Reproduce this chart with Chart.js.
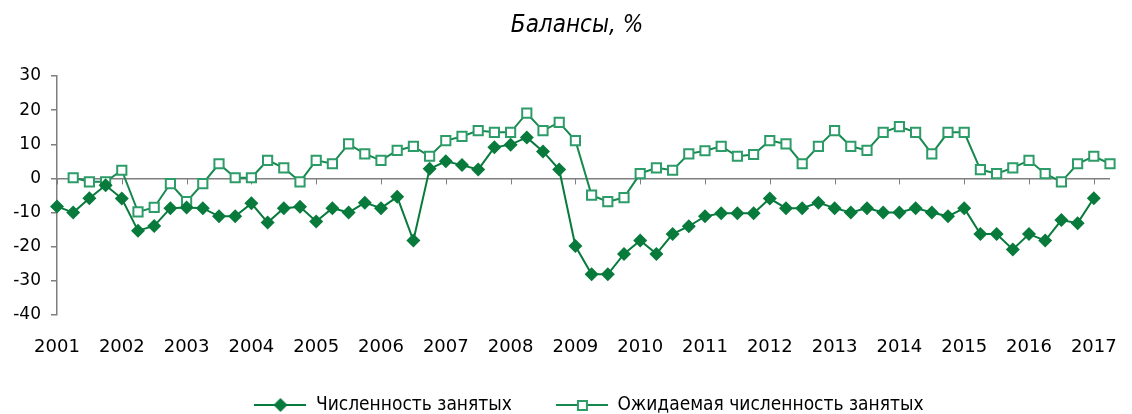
<!DOCTYPE html>
<html>
<head>
<meta charset="utf-8">
<script src="https://cdn.jsdelivr.net/npm/chart.js@4.4.1/dist/chart.umd.min.js"></script>
<style>
  html, body { margin: 0; padding: 0; background: #fff; }
  canvas { display: block; }
</style>
</head>
<body>
<canvas id="chart" width="1132" height="414"></canvas>
<script>
// quarterly data, 2001 Q1 .. 2017 Q2
const years = [2001, 2002, 2003, 2004, 2005, 2006, 2007, 2008, 2009,
               2010, 2011, 2012, 2013, 2014, 2015, 2016, 2017]
const quarters = ["I", "II", "III", "IV"]

const employed = [
  -8.2, -10, -5.8, -2,
  -5.9, -15.3, -13.9, -8.7,
  -8.5, -8.7, -11.1, -11.1,
  -7.3, -12.9, -8.7, -8.3,
  -12.6, -8.7, -10, -7.1,
  -8.7, -5.4, -18.2, 2.8,
  5.0, 3.9, 2.6, 9.1,
  9.9, 12.0, 7.9, 2.6,
  -19.8, -28.1, -28.1, -22.1,
  -18.2, -22.1, -16.3, -14.0,
  -11.1, -10.2, -10.2, -10.2,
  -5.9, -8.7, -8.7, -7.1,
  -8.7, -10, -8.7, -10,
  -10, -8.7, -10, -11.1,
  -8.7, -16.3, -16.3, -20.8,
  -16.3, -18.2, -12.2, -13.1,
  -5.8, null
]

const expected = [
  null, 0.2, -1.0, -1.0,
  2.4, -9.8, -8.5, -1.5,
  -6.8, -1.5, 4.3, 0.2,
  0.2, 5.3, 3.1, -1.0,
  5.3, 4.3, 10.1, 7.2,
  5.3, 8.2, 9.4, 6.5,
  11.1, 12.3, 14.0, 13.5,
  13.5, 19.1, 14.0, 16.4,
  11.1, -4.9, -6.8, -5.6,
  1.4, 3.1, 2.4, 7.2,
  8.1, 9.4, 6.5, 7.0,
  11.1, 10.1, 4.3, 9.4,
  14.0, 9.4, 8.2, 13.5,
  15.2, 13.5, 7.2, 13.5,
  13.5, 2.6, 1.4, 3.1,
  5.3, 1.4, -1.0, 4.3,
  6.5, 4.3
]

const seriesNames = ["Численность занятых", "Ожидаемая численность занятых"]

const labels = years.flatMap(y => quarters.map(q => q + " кв. " + y)).slice(0, employed.length)

const darkGreen = "#077a3c"
const lineGreen = "#17894f"
const lightGreen = "#2c9c68"
const axisGray = "#7f7f7f"

// legend icon: short line with the marker in the middle
function legendIcon(kind) {
  const c = document.createElement("canvas")
  c.width = 52
  c.height = 16
  const ctx = c.getContext("2d")
  ctx.strokeStyle = kind === "diamond" ? darkGreen : lineGreen
  ctx.lineWidth = 2
  ctx.beginPath()
  ctx.moveTo(0, 8)
  ctx.lineTo(52, 8)
  ctx.stroke()
  if (kind === "diamond") {
    ctx.fillStyle = darkGreen
    ctx.beginPath()
    ctx.moveTo(26, 1)
    ctx.lineTo(33, 8)
    ctx.lineTo(26, 15)
    ctx.lineTo(19, 8)
    ctx.closePath()
    ctx.fill()
  } else {
    ctx.fillStyle = "#fff"
    ctx.strokeStyle = lightGreen
    ctx.fillRect(22, 4, 9, 9)
    ctx.strokeRect(22, 4, 9, 9)
  }
  return c
}

const yearTicks = {
  id: "yearTicks",
  beforeDatasetsDraw(chart) {
    const {ctx, scales: {x, y}} = chart
    const y0 = y.getPixelForValue(0)
    ctx.save()
    ctx.strokeStyle = axisGray
    ctx.lineWidth = 1
    for (let i = 0; i < labels.length; i += 4) {
      const px = Math.round(x.getPixelForValue(i)) + 0.5
      ctx.beginPath()
      ctx.moveTo(px, y0)
      ctx.lineTo(px, y0 + 6)
      ctx.stroke()
    }
    ctx.restore()
  }
}

// nudge title and legend to where the original has them
const nudge = {
  id: "nudge",
  afterLayout(chart) {
    if (chart.titleBlock) chart.titleBlock.left += 30
    if (chart.legend) {
      chart.legend.left += 54
      chart.legend.top -= 8.5
    }
  }
}

new Chart(document.getElementById("chart"), {
  type: "line",
  data: {
    labels,
    datasets: [{
      label: seriesNames[0],
      data: employed,
      borderColor: darkGreen,
      backgroundColor: darkGreen,
      borderWidth: 2,
      pointStyle: "rectRot",
      pointRadius: 7,
      pointBackgroundColor: darkGreen,
      pointBorderColor: darkGreen,
      pointBorderWidth: 0,
      tension: 0
    }, {
      label: seriesNames[1],
      data: expected,
      borderColor: lineGreen,
      backgroundColor: "#fff",
      borderWidth: 2,
      pointStyle: "rect",
      pointRadius: 6.5,
      pointBackgroundColor: "#fff",
      pointBorderColor: lightGreen,
      pointBorderWidth: 2,
      tension: 0
    }]
  },
  options: {
    responsive: false,
    animation: false,
    layout: { padding: { left: 0, right: 8, top: 0, bottom: 0 } },
    plugins: {
      title: {
        display: true,
        text: "Балансы, %",
        color: "#000",
        font: { family: "DejaVu Sans Condensed", size: 24, style: "italic", weight: "normal" },
        padding: { top: 11, bottom: 36.2 }
      },
      legend: {
        position: "bottom",
        maxHeight: 54,
        labels: {
          usePointStyle: true,
          pointStyleWidth: 52,
          color: "#000",
          font: { family: "DejaVu Sans Condensed", size: 19 },
          padding: 44,
          generateLabels: chart => chart.data.datasets.map((ds, i) => ({
            text: ds.label,
            datasetIndex: i,
            pointStyle: legendIcon(i === 0 ? "diamond" : "square"),
            fontColor: "#000",
            lineWidth: 0,
            strokeStyle: "transparent",
            fillStyle: "transparent"
          }))
        }
      },
      tooltip: { enabled: false }
    },
    scales: {
      x: {
        offset: false,
        afterFit: s => { s.height = 45 },
        grid: { display: false, drawTicks: false },
        border: { display: false },
        ticks: {
          autoSkip: false,
          maxRotation: 0,
          padding: 22,
          color: "#000",
          font: { family: "DejaVu Sans", size: 18 },
          callback: (v, i) => i % 4 === 0 ? years[i / 4] : ""
        }
      },
      y: {
        min: -40,
        max: 30,
        afterFit: s => { s.width = 57 },
        ticks: {
          stepSize: 10,
          padding: 10,
          color: "#000",
          font: { family: "DejaVu Sans", size: 17 }
        },
        grid: {
          color: c => c.tick && c.tick.value === 0 ? axisGray : "transparent",
          tickColor: axisGray,
          tickLength: 6,
          lineWidth: 1.5
        },
        border: { color: axisGray, width: 1.5 }
      }
    }
  },
  plugins: [yearTicks, nudge]
})
</script>
</body>
</html>
